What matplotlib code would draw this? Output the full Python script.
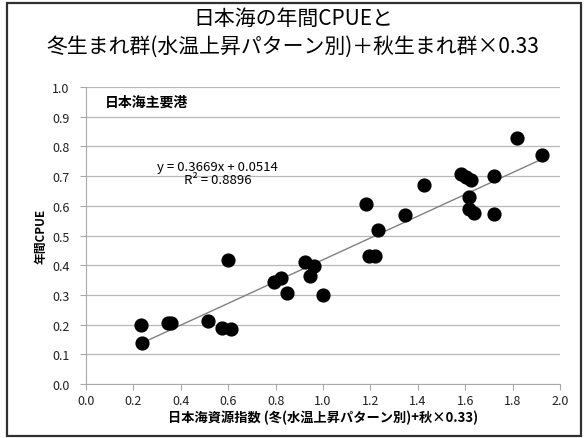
import numpy as np
import matplotlib.pyplot as plt
from matplotlib.patches import Rectangle

plt.rcParams['font.family'] = ['Noto Sans CJK JP', 'DejaVu Sans']

# 資源指数 (冬(水温上昇パターン別)+秋×0.33) と 年間CPUE
x_idx = [0.232, 0.236, 0.344, 0.358, 0.515, 0.575, 0.610, 0.600, 0.793, 0.821,
         0.849, 0.926, 0.961, 0.947, 0.999, 1.183, 1.231, 1.193, 1.218, 1.347,
         1.426, 1.583, 1.603, 1.625, 1.614, 1.614, 1.639, 1.722, 1.723, 1.820,
         1.923]
y_cpue = [0.200, 0.138, 0.204, 0.206, 0.213, 0.190, 0.186, 0.419, 0.343, 0.357,
          0.308, 0.410, 0.398, 0.364, 0.299, 0.605, 0.519, 0.432, 0.432, 0.569,
          0.671, 0.708, 0.697, 0.686, 0.629, 0.590, 0.575, 0.699, 0.571, 0.827,
          0.770]

slope, intercept = 0.3669, 0.0514
r2 = 0.8896

fig = plt.figure(figsize=(5.86, 4.39), dpi=100)
ax = fig.add_axes([86 / 586, 1 - 385 / 439, (560 - 86) / 586, (385 - 88) / 439])

# 外枠
fig.patches.append(Rectangle((7 / 586, 2 / 439), 574 / 586, 433 / 439,
                             transform=fig.transFigure, fill=False,
                             edgecolor='#303030', linewidth=1.6))

fig.text(0.5, 1 - 19 / 439, '日本海の年間CPUEと', ha='center', va='center', fontsize=15)
fig.text(0.5, 1 - 47 / 439, '冬生まれ群(水温上昇パターン別)＋秋生まれ群×0.33',
         ha='center', va='center', fontsize=15)

# 回帰直線
xs = np.array([min(x_idx), max(x_idx)])
ax.plot(xs, slope * xs + intercept, color='#808080', linewidth=1.0, zorder=2)
ax.scatter(x_idx, y_cpue, s=85, color='black', zorder=3)

ax.set_xlim(0, 2.0)
ax.set_ylim(0, 1.0)
ax.set_xticks(np.arange(0, 2.01, 0.2))
ax.set_yticks(np.arange(0, 1.01, 0.1))
ax.set_xticklabels(['%.1f' % v for v in np.arange(0, 2.01, 0.2)], fontsize=9)
ax.set_yticklabels(['%.1f' % v for v in np.arange(0, 1.01, 0.1)], fontsize=9)
ax.yaxis.grid(True, color='#b8b8b8', linewidth=0.9)
ax.set_axisbelow(True)
for s in ['top', 'right']:
    ax.spines[s].set_visible(False)
ax.spines['left'].set_color('#a8a8a8')
ax.spines['bottom'].set_color('#a8a8a8')
ax.tick_params(axis='both', colors='#a8a8a8', labelcolor='#202020', length=4)
ax.tick_params(axis='y', pad=8)
ax.tick_params(axis='x', pad=3)

ax.set_xlabel('日本海資源指数 (冬(水温上昇パターン別)+秋×0.33)', fontsize=9.5,
              fontweight='bold', labelpad=2)
ax.set_ylabel('年間CPUE', fontsize=8.5, fontweight='bold', labelpad=3)

ax.text(0.04, 0.95, '日本海主要港', transform=ax.transAxes, fontsize=10,
        fontweight='bold', va='center', ha='left')
ax.text(0.555, 0.71, 'y = 0.3669x + 0.0514\nR² = 0.8896', fontsize=9.5,
        ha='center', va='center', linespacing=1.05)

plt.savefig('out.png', dpi=100)
